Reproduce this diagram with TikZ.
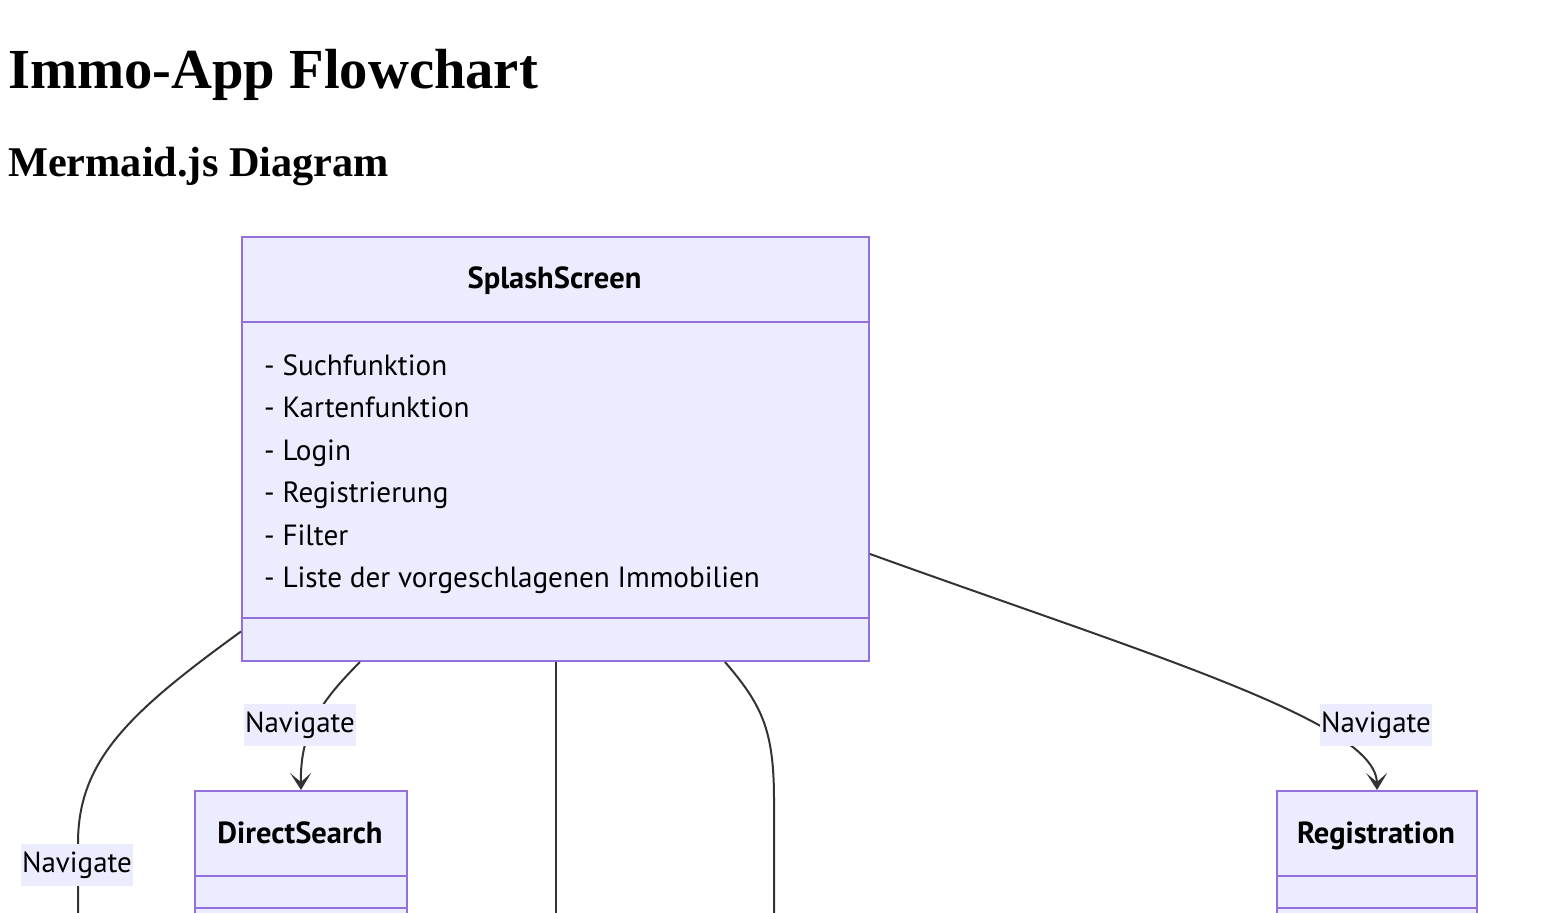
\documentclass[tikz,border=0pt]{standalone}
\usepackage{fontspec}
\usepackage{tikz}
\usetikzlibrary{
    arrows.meta,
    positioning,
    calc
}
\setmainfont{Liberation Serif}
\newfontfamily\mmdfont{PT Sans}
\definecolor{mmFill}{HTML}{ECECFF}
\definecolor{mmLine}{HTML}{9370DB}
\definecolor{mmEdge}{HTML}{333333}
\tikzset{
  part/.style    = {draw=mmLine, fill=mmFill, line width=2pt,
                    anchor=north west, inner sep=0pt},
  ctitle/.style  = {anchor=base, inner sep=0pt,
                    font=\mmdfont\bfseries\fontsize{30.5}{34}\selectfont},
  member/.style  = {anchor=base west, inner sep=0pt,
                    font=\mmdfont\fontsize{29.2}{34}\selectfont},
  lbl/.style     = {fill=mmFill, inner xsep=1pt, minimum height=42pt,
                    font=\mmdfont\fontsize{29}{34}\selectfont},
  edge/.style    = {draw=mmEdge, line width=2pt},
  arr/.style     = {edge, -{Stealth[length=17pt, width=21pt, inset=9pt]}}
}

\begin{document}
\begin{tikzpicture}[x=1pt, y=-1pt]
  \useasboundingbox (0,0) rectangle (1548,913);
  \clip (0,0) rectangle (1548,913);

  % ── HEADINGS ──
  \node[anchor=base west, inner sep=0pt,
        font=\bfseries\fontsize{56.6}{64}\selectfont] (h_main) at (8,88) {Immo-App Flowchart};
  \node[anchor=base west, inner sep=0pt,
        font=\bfseries\fontsize{42.3}{48}\selectfont] (h_sub) at (8,176) {Mermaid.js Diagram};

  % ── SPLASHSCREEN ──
  \node[part, minimum width=627pt, minimum height=85pt]  (sp_head) at (241,236) {};
  \node[part, minimum width=627pt, minimum height=296pt] (sp_body) at (241,321) {};
  \node[part, minimum width=627pt, minimum height=43pt]  (sp_foot) at (241,617) {};
  \node[ctitle] (sp_title) at (554.5,288) {SplashScreen};
  \node[member] (m1) at (264,375) {- Suchfunktion};
  \node[member] (m2) at (264,417) {- Kartenfunktion};
  \node[member] (m3) at (264,460) {- Login};
  \node[member] (m4) at (264,502) {- Registrierung};
  \node[member] (m5) at (264,545) {- Filter};
  \node[member] (m6) at (264,587) {- Liste der vorgeschlagenen Immobilien};

  % ── DIRECTSEARCH ──
  \node[part, minimum width=212pt, minimum height=85pt] (ds_head) at (194,790) {};
  \node[part, minimum width=212pt, minimum height=32pt] (ds_body) at (194,875) {};
  \node[part, minimum width=212pt, minimum height=32pt] (ds_foot) at (194,907) {};
  \node[ctitle] (ds_title) at (300,843) {DirectSearch};

  % ── REGISTRATION ──
  \node[part, minimum width=200pt, minimum height=85pt] (rg_head) at (1276,790) {};
  \node[part, minimum width=200pt, minimum height=32pt] (rg_body) at (1276,875) {};
  \node[part, minimum width=200pt, minimum height=32pt] (rg_foot) at (1276,907) {};
  \node[ctitle] (rg_title) at (1376,843) {Registration};

  % free ends below the cut
  \coordinate (bot_a) at (78,930);
  \coordinate (bot_b) at (774,930);

  % ── EDGES ──
  \draw[edge] ([yshift=8pt]sp_foot.west)
      .. controls (130,712) and (78,760) .. (78,843) -- (bot_a);
  \draw[arr] ([xshift=119pt]sp_foot.south west)
      .. controls (322,700) and (300,730) .. (ds_head.north);
  \draw[edge] (sp_foot.south) -- (sp_foot.south |- bot_a);
  \draw[edge] ([xshift=-145pt]sp_foot.south east)
      .. controls (762,705) and (774,730) .. (774,800) -- (bot_b);
  \draw[arr] ([yshift=-84pt]sp_body.east)
      .. controls (1150,655) and (1376,722) .. (rg_head.north);

  % ── EDGE LABELS ──
  \node[lbl] (l_left)  at (77,865)   {Navigate};
  \node[lbl] (l_ds)    at (300,725)  {Navigate};
  \node[lbl] (l_rg)    at (1376,725) {Navigate};
\end{tikzpicture}
\end{document}
